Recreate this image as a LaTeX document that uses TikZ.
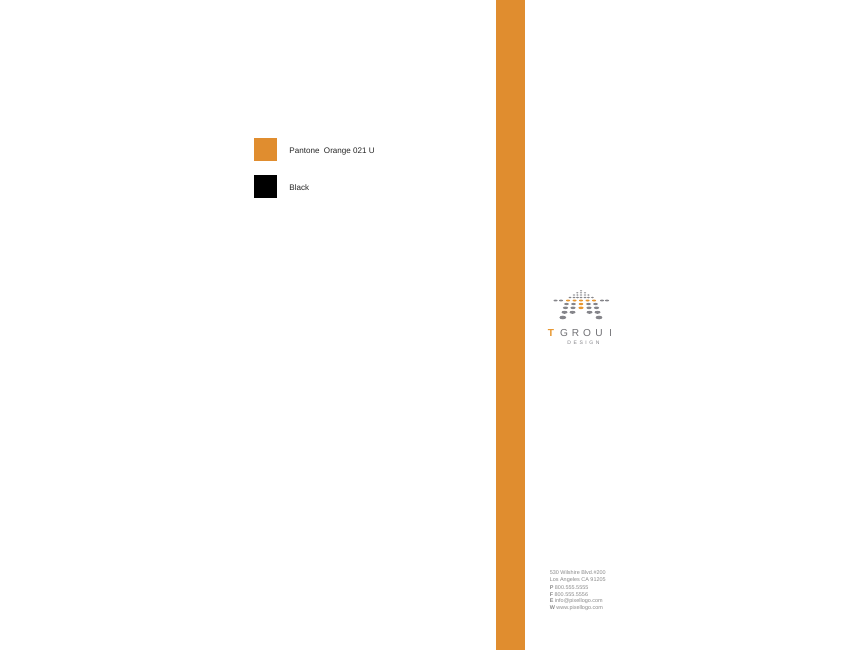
\documentclass[tikz,border=0pt]{standalone}
\usepackage{fontspec}
\setmainfont{Liberation Sans}
\definecolor{brandorange}{HTML}{E08D2F}
\definecolor{dotgray}{HTML}{85858A}
\definecolor{dotorange}{HTML}{E8962E}
\definecolor{addrgray}{HTML}{8A8A8A}
\tikzset{
  x=0.75pt,y=-0.75pt,
  swatchlabel/.style={anchor=west,inner sep=0pt,font=\fontsize{6.05pt}{8pt}\selectfont,text=black!85},
  addr/.style={anchor=west,inner sep=0pt,font=\fontsize{4.1pt}{5pt}\selectfont,text=addrgray},
  lg/.style={anchor=center,inner sep=0pt,font=\fontsize{7.6pt}{9pt}\selectfont,text=dotgray!85!black},
  dotg/.style={fill=dotgray},
  doto/.style={fill=dotorange}
}
\newcommand{\dotrow}[5]{% y, rx, ry, style, x list
  \foreach \px in {#5} {\fill[#4] (\px,#1) ellipse [x radius=#2*0.75pt,y radius=#3*0.75pt];}
}
\begin{document}
\begin{tikzpicture}
\useasboundingbox (0,0) rectangle (866,650);
\fill[white] (0,0) rectangle (866,650);
\fill[brandorange] (496,0) rectangle (525,650);
\fill[brandorange] (254,138) rectangle (277,161);
\fill[black] (254,175) rectangle (277,198);
\node[swatchlabel] (l1) at (289.2,151.2) {Pantone\ \ Orange 021 U};
\node[swatchlabel] (l2) at (289.2,187.5) {Black};
% logo dots
\dotrow{290.8}{1.1}{0.6}{dotg}{581}
\dotrow{292.8}{1.2}{0.65}{dotg}{577.3,581,585}
\dotrow{295}{1.3}{0.7}{dotg}{574,577.4,581,585,588.4}
\dotrow{297.5}{1.5}{0.8}{dotg}{570,574,577.5,581,585,588.4,592.4}
\dotrow{300.5}{2}{0.95}{dotg}{555.5,561,602,607}
\dotrow{300.5}{2}{1}{doto}{568,574.5,581,587.5,594}
\dotrow{304}{2.3}{1.15}{dotg}{566.5,573.5,588.5,595.5}
\dotrow{304}{2.3}{1.15}{doto}{581}
\dotrow{307.8}{2.6}{1.3}{dotg}{565.5,573,589,596.5}
\dotrow{307.8}{2.6}{1.3}{doto}{581}
\dotrow{312.3}{3}{1.5}{dotg}{564.5,572.5,589.5,597.5}
\dotrow{317.5}{3.4}{1.8}{dotg}{562.8,599}
% logo text
\begin{scope}
\clip (540,322) rectangle (610.3,340);
\node[lg,text=dotorange,font=\bfseries\fontsize{7.6pt}{9pt}\selectfont] (t) at (551,333) {T};
\node[lg] (g) at (564,333) {G};
\node[lg] (r) at (575.5,333) {R};
\node[lg] (o) at (587,333) {O};
\node[lg] (u) at (599,333) {U};
\node[lg] (p) at (612.7,333) {P};
\end{scope}
\node[anchor=center,inner sep=0pt,font=\fontsize{3.8pt}{5pt}\selectfont,text=dotgray] (d) at (583.5,342.5) {D\,\,\,E\,\,\,S\,\,\,I\,\,\,G\,\,\,N};
% address
\node[addr] (a1) at (549.5,572.7) {530 Wilshire Blvd.\#200};
\node[addr] (a2) at (549.5,580) {Los Angeles CA 91205};
\node[addr] (a3) at (549.5,587.3) {\textbf{P} 800.555.5555};
\node[addr] (a4) at (549.5,594.4) {\textbf{F} 800.555.5556};
\node[addr] (a5) at (549.5,601.5) {\textbf{E} info@pixellogo.com};
\node[addr] (a6) at (549.5,608.5) {\textbf{W} www.pixellogo.com};
\end{tikzpicture}
\end{document}
